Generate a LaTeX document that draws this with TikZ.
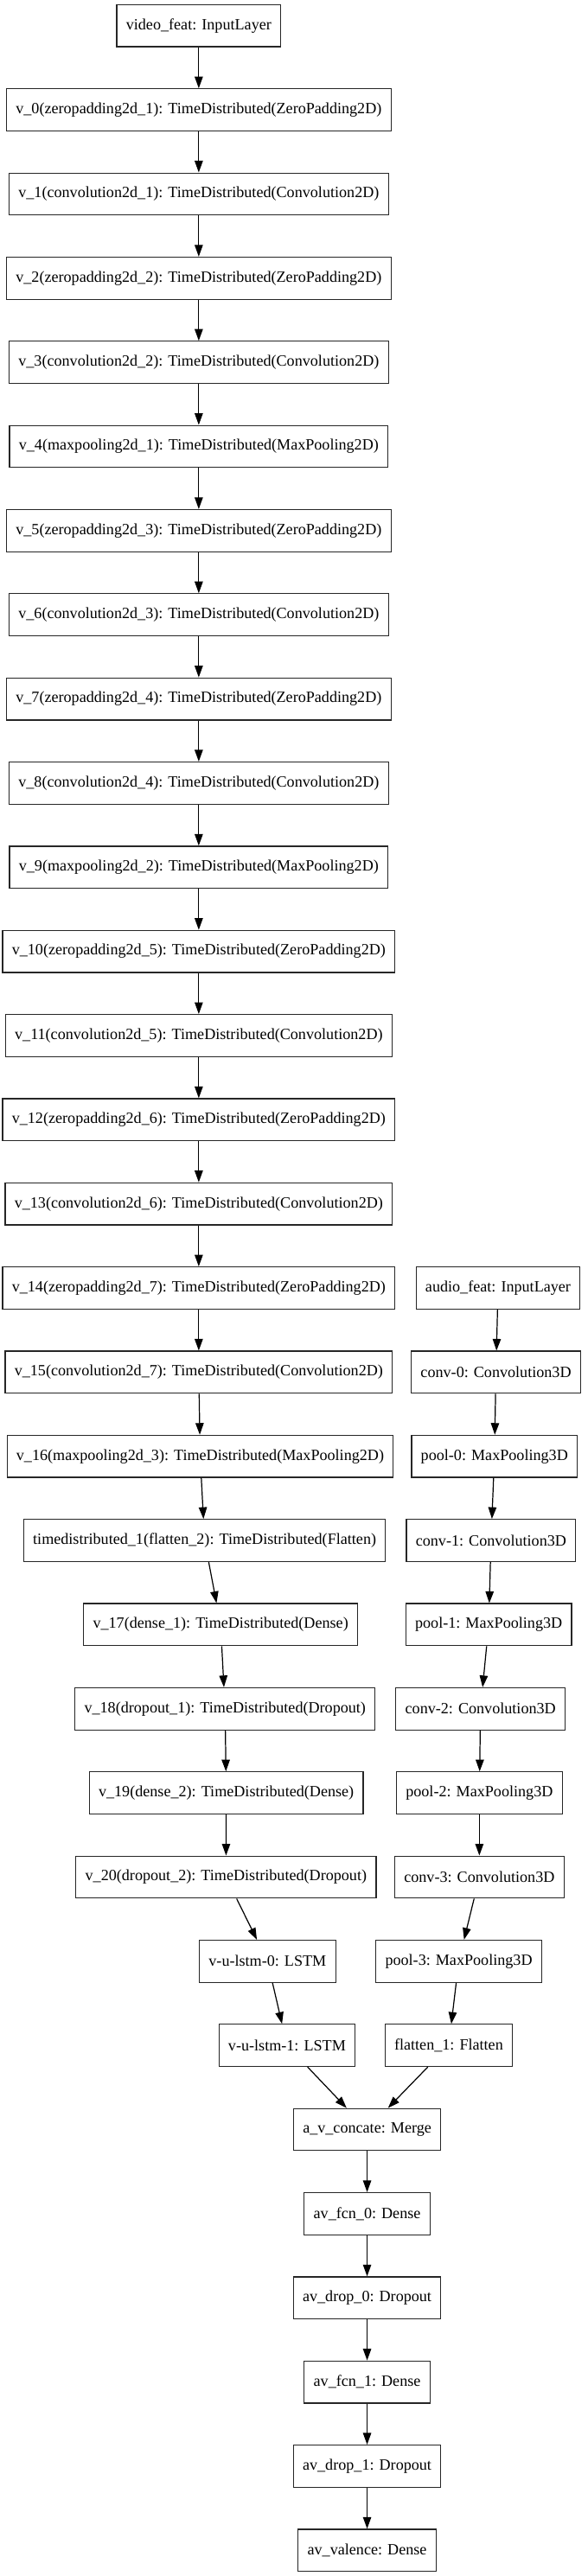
\documentclass[tikz,border=0pt]{standalone}
\usepackage{fontspec}
\setmainfont{Liberation Serif}
\usepackage{tikz}
\usetikzlibrary{arrows.meta}
\tikzset{
  layer/.style={draw=black!85, line width=0.9pt, rectangle, minimum height=36pt, inner xsep=8pt, inner ysep=0pt, font=\fontsize{13.4}{16}\selectfont},
  flow/.style={line width=0.9pt, -{Triangle[length=10pt,width=7pt]}}
}

\begin{document}
\begin{tikzpicture}[x=1pt,y=-1pt]
				\useasboundingbox (0,0) rectangle (502.2,2204);
				
				% video branch
				\node[layer] (vfeat) at (170,22) {video\_feat: InputLayer};
				\node[layer] (v0) at (170,94) {v\_0(zeropadding2d\_1): TimeDistributed(ZeroPadding2D)};
				\node[layer] (v1) at (170,166) {v\_1(convolution2d\_1): TimeDistributed(Convolution2D)};
				\node[layer] (v2) at (170,238) {v\_2(zeropadding2d\_2): TimeDistributed(ZeroPadding2D)};
				\node[layer] (v3) at (170,310) {v\_3(convolution2d\_2): TimeDistributed(Convolution2D)};
				\node[layer] (v4) at (170,382) {v\_4(maxpooling2d\_1): TimeDistributed(MaxPooling2D)};
				\node[layer] (v5) at (170,454) {v\_5(zeropadding2d\_3): TimeDistributed(ZeroPadding2D)};
				\node[layer] (v6) at (170,526) {v\_6(convolution2d\_3): TimeDistributed(Convolution2D)};
				\node[layer] (v7) at (170,598) {v\_7(zeropadding2d\_4): TimeDistributed(ZeroPadding2D)};
				\node[layer] (v8) at (170,670) {v\_8(convolution2d\_4): TimeDistributed(Convolution2D)};
				\node[layer] (v9) at (170,742) {v\_9(maxpooling2d\_2): TimeDistributed(MaxPooling2D)};
				\node[layer] (v10) at (170,814) {v\_10(zeropadding2d\_5): TimeDistributed(ZeroPadding2D)};
				\node[layer] (v11) at (170,886) {v\_11(convolution2d\_5): TimeDistributed(Convolution2D)};
				\node[layer] (v12) at (170,958) {v\_12(zeropadding2d\_6): TimeDistributed(ZeroPadding2D)};
				\node[layer] (v13) at (170,1030) {v\_13(convolution2d\_6): TimeDistributed(Convolution2D)};
				\node[layer] (v14) at (170,1102) {v\_14(zeropadding2d\_7): TimeDistributed(ZeroPadding2D)};
				\node[layer] (v15) at (170,1174) {v\_15(convolution2d\_7): TimeDistributed(Convolution2D)};
				\node[layer] (v16) at (171.2,1246) {v\_16(maxpooling2d\_3): TimeDistributed(MaxPooling2D)};
				\node[layer] (td1) at (175,1318) {timedistributed\_1(flatten\_2): TimeDistributed(Flatten)};
				\node[layer] (v17) at (188.7,1390) {v\_17(dense\_1): TimeDistributed(Dense)};
				\node[layer] (v18) at (192.5,1462) {v\_18(dropout\_1): TimeDistributed(Dropout)};
				\node[layer] (v19) at (193.5,1534) {v\_19(dense\_2): TimeDistributed(Dense)};
				\node[layer] (v20) at (193.3,1606) {v\_20(dropout\_2): TimeDistributed(Dropout)};
				\node[layer] (lstm0) at (228.8,1678) {v-u-lstm-0: LSTM};
				\node[layer] (lstm1) at (245.5,1750) {v-u-lstm-1: LSTM};
				
				% audio branch
				\node[layer] (afeat) at (426,1102) {audio\_feat: InputLayer};
				\node[layer] (conv0) at (424.2,1174) {conv-0: Convolution3D};
				\node[layer] (pool0) at (422.9,1246) {pool-0: MaxPooling3D};
				\node[layer] (conv1) at (420,1318) {conv-1: Convolution3D};
				\node[layer] (pool1) at (418,1390) {pool-1: MaxPooling3D};
				\node[layer] (conv2) at (411,1462) {conv-2: Convolution3D};
				\node[layer] (pool2) at (410,1534) {pool-2: MaxPooling3D};
				\node[layer] (conv3) at (410,1606) {conv-3: Convolution3D};
				\node[layer] (pool3) at (392.4,1678) {pool-3: MaxPooling3D};
				\node[layer] (flat1) at (383.8,1750) {flatten\_1: Flatten};
				
				% merged head
				\node[layer] (concat) at (314,1822) {a\_v\_concate: Merge};
				\node[layer] (fcn0) at (314,1894) {av\_fcn\_0: Dense};
				\node[layer] (drop0) at (314,1966) {av\_drop\_0: Dropout};
				\node[layer] (fcn1) at (314,2038) {av\_fcn\_1: Dense};
				\node[layer] (drop1) at (314,2110) {av\_drop\_1: Dropout};
				\node[layer] (valence) at (314,2182) {av\_valence: Dense};
				
				\draw[flow] (vfeat) -- (v0);
				\draw[flow] (v0) -- (v1);
				\draw[flow] (v1) -- (v2);
				\draw[flow] (v2) -- (v3);
				\draw[flow] (v3) -- (v4);
				\draw[flow] (v4) -- (v5);
				\draw[flow] (v5) -- (v6);
				\draw[flow] (v6) -- (v7);
				\draw[flow] (v7) -- (v8);
				\draw[flow] (v8) -- (v9);
				\draw[flow] (v9) -- (v10);
				\draw[flow] (v10) -- (v11);
				\draw[flow] (v11) -- (v12);
				\draw[flow] (v12) -- (v13);
				\draw[flow] (v13) -- (v14);
				\draw[flow] (v14) -- (v15);
				\draw[flow] (v15) -- (v16);
				\draw[flow] (v16) -- (td1);
				\draw[flow] (td1) -- (v17);
				\draw[flow] (v17) -- (v18);
				\draw[flow] (v18) -- (v19);
				\draw[flow] (v19) -- (v20);
				\draw[flow] (v20) -- (lstm0);
				\draw[flow] (lstm0) -- (lstm1);
				
				\draw[flow] (afeat) -- (conv0);
				\draw[flow] (conv0) -- (pool0);
				\draw[flow] (pool0) -- (conv1);
				\draw[flow] (conv1) -- (pool1);
				\draw[flow] (pool1) -- (conv2);
				\draw[flow] (conv2) -- (pool2);
				\draw[flow] (pool2) -- (conv3);
				\draw[flow] (conv3) -- (pool3);
				\draw[flow] (pool3) -- (flat1);
				
				\draw[flow] (lstm1) -- (concat);
				\draw[flow] (flat1) -- (concat);
				\draw[flow] (concat) -- (fcn0);
				\draw[flow] (fcn0) -- (drop0);
				\draw[flow] (drop0) -- (fcn1);
				\draw[flow] (fcn1) -- (drop1);
				\draw[flow] (drop1) -- (valence);
			\end{tikzpicture}
\end{document}
